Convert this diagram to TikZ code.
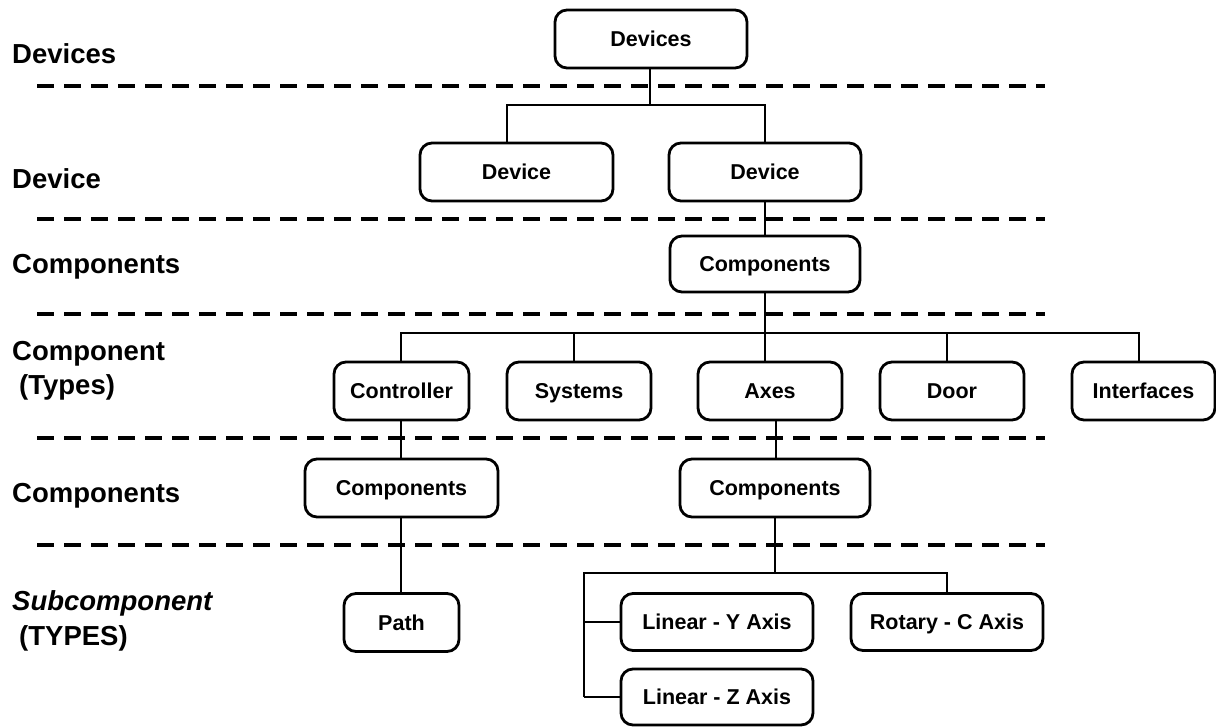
\documentclass[tikz,border=0pt]{standalone}
\usepackage{fontspec}
\setmainfont{Liberation Sans}
\begin{document}
\begin{tikzpicture}[x=1pt,y=-1pt,
  box/.style={draw, line width=2.8pt, rounded corners=12pt, inner sep=0pt, align=center,
    text height=15.5pt, text depth=0pt,
    font=\fontsize{21.5}{24}\selectfont\bfseries},
  wire/.style={line width=2.8pt},
  sep/.style={line width=4pt, dash pattern=on 17pt off 10pt},
  lab/.style={anchor=base west, inner sep=0pt, font=\fontsize{27.5}{34}\selectfont\bfseries}]
\useasboundingbox (0,0) rectangle (1216,726);

% separators
\foreach \yy in {86,219,314,438,545}
  \draw[sep] (37,\yy) -- (1045,\yy);

% left labels
\node[lab] (l1) at (12,63) {Devices};
\node[lab] (l2) at (12,188) {Device};
\node[lab] (l3) at (12,273) {Components};
\node[lab] (l4a) at (12,360) {Component};
\node[lab] (l4b) at (19,394) {(Types)};
\node[lab] (l5) at (12,502) {Components};
\node[lab,font=\fontsize{27.5}{34}\selectfont\bfseries\itshape] (l6a) at (12,610) {Subcomponent};
\node[lab] (l6b) at (19,645) {(TYPES)};

% boxes
\node[box,minimum width=192pt,minimum height=58pt] (top) at (651,39) {Devices};
\node[box,minimum width=193pt,minimum height=58pt] (devL) at (516.5,172) {Device};
\node[box,minimum width=192pt,minimum height=58pt] (devR) at (765,172) {Device};
\node[box,minimum width=190pt,minimum height=56pt] (compA) at (765,264) {Components};
\node[box,minimum width=135pt,minimum height=58pt] (ctrl) at (401.5,391) {Controller};
\node[box,minimum width=144pt,minimum height=58pt] (sys) at (579,391) {Systems};
\node[box,minimum width=144pt,minimum height=58pt] (axes) at (770,391) {Axes};
\node[box,minimum width=144pt,minimum height=58pt] (door) at (952,391) {Door};
\node[box,minimum width=143pt,minimum height=58pt] (intf) at (1143.5,391) {Interfaces};
\node[box,minimum width=193pt,minimum height=58pt] (compL) at (401.5,488) {Components};
\node[box,minimum width=190pt,minimum height=58pt] (compR) at (775,488) {Components};
\node[box,minimum width=115pt,minimum height=58pt] (path) at (401.5,622.5) {Path};
\node[box,minimum width=192pt,minimum height=57pt] (linY) at (717,622) {Linear - Y Axis};
\node[box,minimum width=192pt,minimum height=57pt] (rot) at (947,622) {Rotary - C Axis};
\node[box,minimum width=192pt,minimum height=56pt] (linZ) at (717,697) {Linear - Z Axis};

% bus coordinates
\coordinate (b1) at (650,105);
\coordinate (b1L) at (507,105);
\coordinate (b1R) at (765,105);
\coordinate (b4) at (765,333);
\coordinate (b4a) at (401,333);
\coordinate (b4b) at (574,333);
\coordinate (b4c) at (947,333);
\coordinate (b4d) at (1139,333);
\coordinate (b6) at (775,573);
\coordinate (b6L) at (584,573);
\coordinate (b6R) at (947,573);
\coordinate (b6Y) at (584,622);
\coordinate (b6Z) at (584,697);

% connectors
\draw[wire] (top.south -| b1) -- (b1);
\draw[wire] (b1L |- devL.north) -- (b1L) -- (b1R) -- (devR.north);
\draw[wire] (devR.south) -- (compA.north);
\draw[wire] (compA.south) -- (b4);
\draw[wire] (b4a |- ctrl.north) -- (b4a) -- (b4d) -- (b4d |- intf.north);
\draw[wire] (b4b) -- (b4b |- sys.north);
\draw[wire] (b4) -- (b4 |- axes.north);
\draw[wire] (b4c) -- (b4c |- door.north);
\draw[wire] (ctrl.south -| b4a) -- (compL.north -| b4a);
\draw[wire] (compL.south -| b4a) -- (path.north -| b4a);
\draw[wire] (axes.south -| 776,0) -- (compR.north -| 776,0);
\draw[wire] (compR.south) -- (b6);
\draw[wire] (b6Z) -- (b6L) -- (b6R) -- (rot.north);
\draw[wire] (b6Y) -- (linY.west);
\draw[wire] (b6Z) -- (linZ.west);
\end{tikzpicture}
\end{document}
